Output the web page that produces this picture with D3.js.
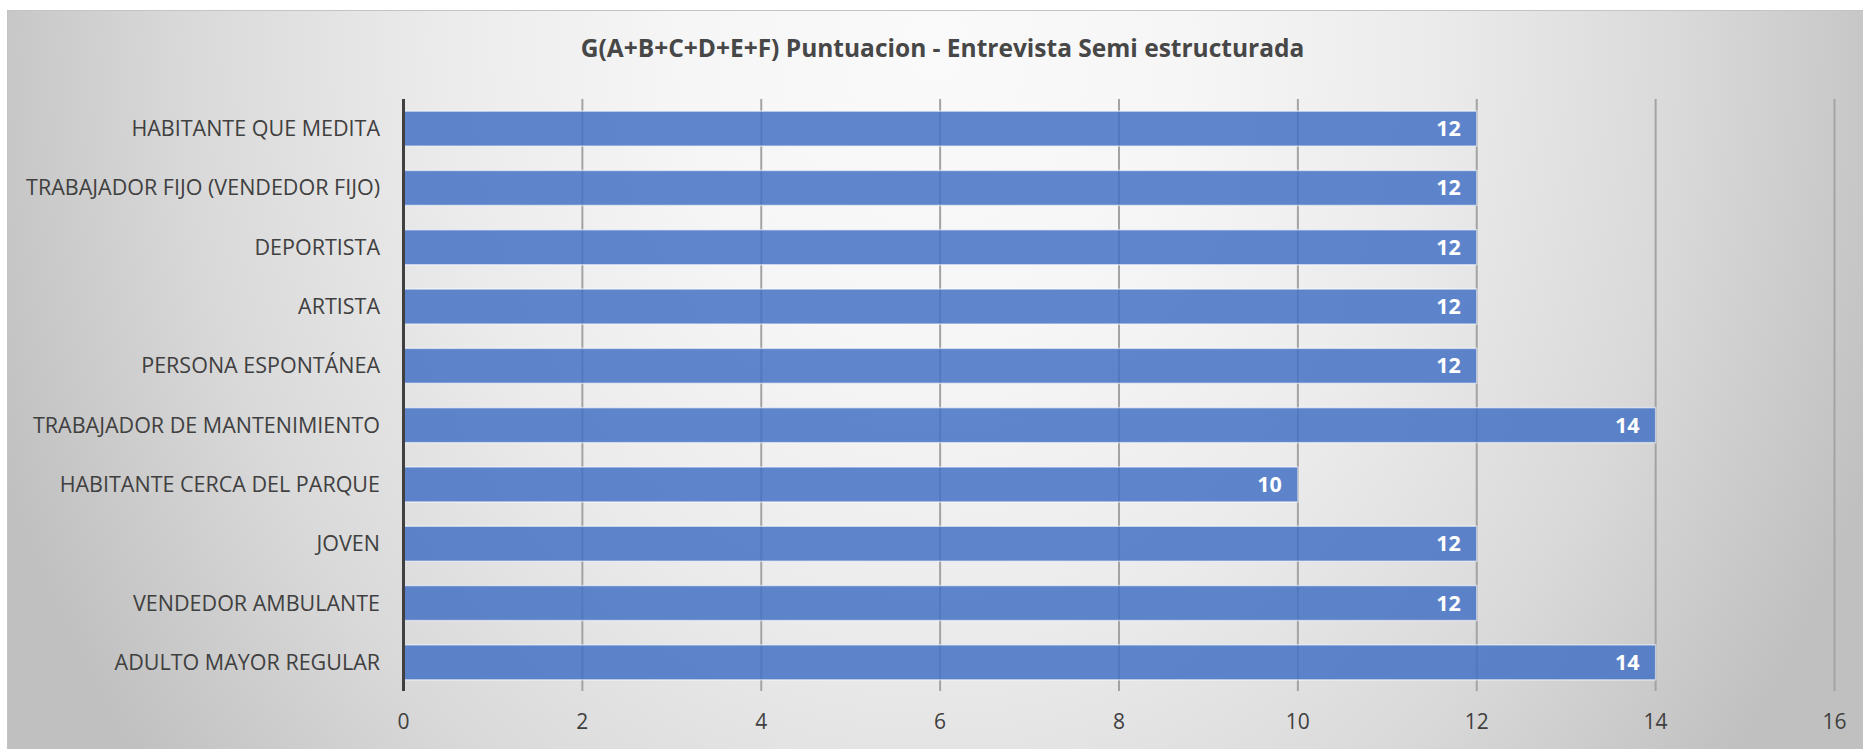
<!DOCTYPE html>
<html>
<head>
<meta charset="utf-8">
<script src="https://cdn.jsdelivr.net/npm/d3@7"></script>
<style>
  html, body { margin: 0; padding: 0; background: #ffffff; }
  svg { display: block; }
  text { font-family: "Open Sans", "Noto Sans", sans-serif; }
</style>
</head>
<body>
<svg id="chart" width="1863" height="749"></svg>
<script>
// Interview groups, listed top to bottom
const categories = [
  "HABITANTE QUE MEDITA",
  "TRABAJADOR FIJO (VENDEDOR FIJO)",
  "DEPORTISTA",
  "ARTISTA",
  "PERSONA ESPONTÁNEA",
  "TRABAJADOR DE MANTENIMIENTO",
  "HABITANTE CERCA DEL PARQUE",
  "JOVEN",
  "VENDEDOR AMBULANTE",
  "ADULTO MAYOR REGULAR"
];
// G(A+B+C+D+E+F) score for each group
const scores = [12, 12, 12, 12, 12, 14, 10, 12, 12, 14];
// Value axis ticks
const xTicks = [0, 2, 4, 6, 8, 10, 12, 14, 16];
const chartTitle = "G(A+B+C+D+E+F) Puntuacion - Entrevista Semi estructurada";

const W = 1863, H = 749;
const plot = { left: 403.5, right: 1834.5, top: 99, bottom: 692 };

const svg = d3.select("#chart");
const defs = svg.append("defs");

// soft grey radial backdrop, lightest just under the title
const grad = defs.append("radialGradient")
  .attr("id", "bg")
  .attr("gradientUnits", "userSpaceOnUse")
  .attr("cx", 0).attr("cy", 0).attr("r", 1000)
  .attr("gradientTransform", "translate(935,40) scale(1,1.2)");
[[0, "#fafafa"], [0.25, "#f6f6f6"], [0.5, "#ebebeb"], [0.75, "#d9d9d9"], [1, "#c0c0c0"]]
  .forEach(([o, c]) => grad.append("stop").attr("offset", o).attr("stop-color", c));

svg.append("rect")
  .attr("x", 7.5).attr("y", 10.5)
  .attr("width", W - 7).attr("height", H - 10)
  .attr("fill", "url(#bg)")
  .attr("stroke", "#c4c4c4").attr("stroke-width", 1);

const x = d3.scaleLinear().domain([0, 16]).range([plot.left, plot.right]);
const y = d3.scaleBand().domain(categories)
  .range([plot.top, plot.bottom])
  .paddingInner(0.41).paddingOuter(0.205);

// vertical gridlines
svg.append("g")
  .selectAll("line")
  .data(xTicks.filter(t => t > 0))
  .join("line")
  .attr("x1", d => x(d)).attr("x2", d => x(d))
  .attr("y1", plot.top).attr("y2", plot.bottom - 1)
  .attr("stroke", "#a3a3a3").attr("stroke-width", 2);

// bars
svg.append("g")
  .selectAll("rect")
  .data(categories)
  .join("rect")
  .attr("x", x(0))
  .attr("y", d => y(d))
  .attr("width", (d, i) => x(scores[i]) - x(0))
  .attr("height", y.bandwidth())
  .attr("fill", "#4472c4")
  .attr("fill-opacity", 0.85)
  .attr("stroke", "#ffffff")
  .attr("stroke-opacity", 0.55)
  .attr("stroke-width", 1.5);

// category axis line
svg.append("line")
  .attr("x1", x(0)).attr("x2", x(0))
  .attr("y1", plot.top).attr("y2", plot.bottom - 1)
  .attr("stroke", "#404040").attr("stroke-width", 3);

// category labels
svg.append("g")
  .selectAll("text")
  .data(categories)
  .join("text")
  .attr("x", 380)
  .attr("y", d => y(d) + y.bandwidth() / 2)
  .attr("dy", "0.35em")
  .attr("text-anchor", "end")
  .attr("font-size", 21.5)
  .attr("fill", "#404040")
  .text(d => d);

// value tick labels
svg.append("g")
  .selectAll("text")
  .data(xTicks)
  .join("text")
  .attr("x", d => x(d))
  .attr("y", 722)
  .attr("dy", "0.35em")
  .attr("text-anchor", "middle")
  .attr("font-size", 21)
  .attr("fill", "#404040")
  .text(d => d);

// data labels inside bar ends
svg.append("g")
  .selectAll("text")
  .data(categories)
  .join("text")
  .attr("x", (d, i) => x(scores[i]) - 16)
  .attr("y", d => y(d) + y.bandwidth() / 2)
  .attr("dy", "0.35em")
  .attr("text-anchor", "end")
  .attr("font-size", 21.5)
  .attr("font-weight", "bold")
  .attr("fill", "#ffffff")
  .text((d, i) => scores[i]);

// title
svg.append("text")
  .attr("x", 942.5)
  .attr("y", 57)
  .attr("text-anchor", "middle")
  .attr("font-size", 24.5)
  .attr("font-weight", "bold")
  .attr("fill", "#474747")
  .text(chartTitle);
</script>
</body>
</html>
